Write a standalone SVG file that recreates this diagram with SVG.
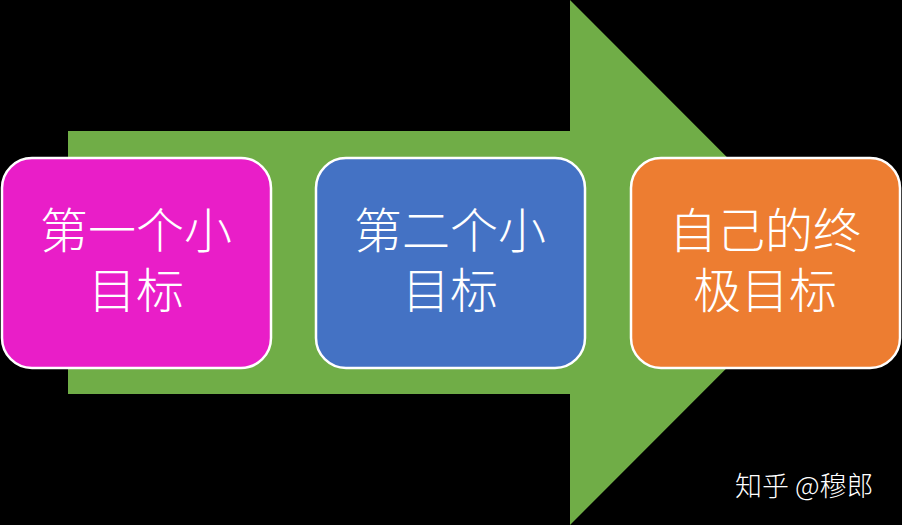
<svg xmlns="http://www.w3.org/2000/svg" width="902" height="525" viewBox="0 0 902 525">
<style>
.box{stroke:#ffffff;stroke-width:2.5}
.t{fill:#ffffff;font-family:"Noto Sans CJK SC","Noto Sans",sans-serif;font-size:48px;font-weight:300;text-anchor:middle}
.wm{fill:#ffffff;font-family:"Noto Sans CJK SC","Noto Sans",sans-serif;font-size:27px;font-weight:300}
</style>
<rect x="0" y="0" width="902" height="525" fill="#000000"/>
<g id="arrow">
<polygon points="68,131 570,131 570,0 832,262.5 570,525 570,394 68,394" fill="#70AD47"/>
</g>
<g id="connectors"></g>
<g id="node1">
<rect class="box" x="2" y="158" width="269" height="210" rx="30" fill="#E91EC8"/>
<text class="t"><tspan x="136" y="248">第一个小</tspan><tspan x="136" y="308">目标</tspan></text>
</g>
<g id="node2">
<rect class="box" x="316" y="158" width="269" height="210" rx="30" fill="#4472C4"/>
<text class="t"><tspan x="450" y="248">第二个小</tspan><tspan x="450" y="308">目标</tspan></text>
</g>
<g id="node3">
<rect class="box" x="631" y="158" width="269" height="210" rx="30" fill="#ED7D31"/>
<text class="t"><tspan x="765" y="248">自己的终</tspan><tspan x="765" y="308">极目标</tspan></text>
</g>
<text class="wm" x="735" y="496">知乎 @穆郎</text>
</svg>
